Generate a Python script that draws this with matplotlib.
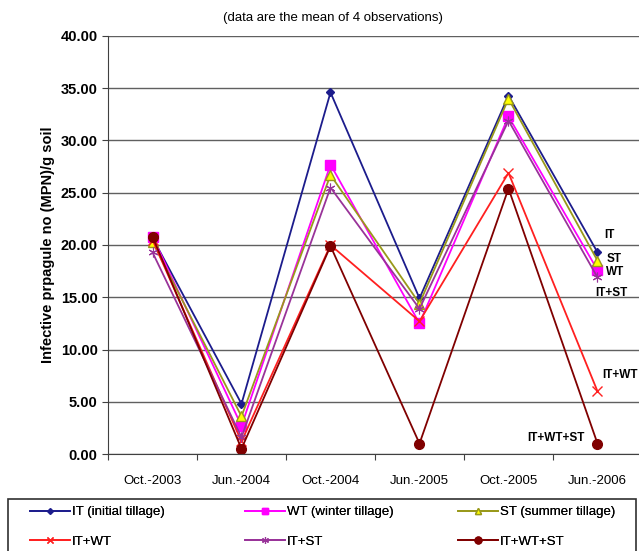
import matplotlib
matplotlib.use("Agg")
import matplotlib.pyplot as plt
from matplotlib.patches import Rectangle

plt.rcParams["font.family"] = ["Liberation Sans", "DejaVu Sans"]

dates = ["Oct.-2003", "Jun.-2004", "Oct.-2004", "Jun.-2005", "Oct.-2005", "Jun.-2006"]
it = [20.7, 4.8, 34.6, 14.9, 34.3, 19.3]
wt = [20.8, 2.7, 27.7, 12.5, 32.3, 17.6]
st = [20.3, 3.6, 26.7, 14.4, 34.0, 18.5]
it_wt = [20.5, 1.2, 20.0, 12.7, 26.9, 6.0]
it_st = [19.3, 1.6, 25.5, 13.9, 31.9, 16.9]
it_wt_st = [20.8, 0.5, 19.9, 1.0, 25.4, 1.0]

# end-of-line labels: text, x (data), y (data)
end_labels = [("IT", 5.08, 21.0), ("ST", 5.1, 18.7), ("WT", 5.1, 17.4),
              ("IT+ST", 4.97, 15.4), ("IT+WT", 5.05, 7.6), ("IT+WT+ST", 4.85, 1.5)]

series = [
    ("IT (initial tillage)", it, "#1c1c8c", dict(marker="D", ms=4, mfc="#1c1c8c", mec="#1c1c8c")),
    ("WT (winter tillage)", wt, "#ff00ff", dict(marker="s", ms=7, mfc="#ff00ff", mec="#ff00ff")),
    ("ST (summer tillage)", st, "#99991a", dict(marker="^", ms=7, mfc="#ffff00", mec="#99991a")),
    ("IT+WT", it_wt, "#ff2020", dict(marker="x", ms=7, mec="#ff2020", mew=1)),
    ("IT+ST", it_st, "#993399", dict(marker=(6, 2, 0), ms=7, mec="#993399", mew=0.8)),
    ("IT+WT+ST", it_wt_st, "#800000", dict(marker="o", ms=7, mfc="#800000", mec="#800000")),
]

fig = plt.figure(figsize=(6.39, 5.51), dpi=100)
ax = fig.add_axes([108 / 639, 1 - 454 / 551, 534 / 639, 418 / 551])

x = list(range(len(dates)))
handles = {}
for name, vals, color, mk in series:
    line, = ax.plot(x, vals, color=color, linewidth=1.3, label=name, **mk)
    handles[name] = line

ax.set_xlim(-0.5, 5.5)
ax.set_ylim(0, 40)
ax.set_yticks(range(0, 41, 5))
ax.set_yticklabels([f"{v:.2f}" for v in range(0, 41, 5)], fontweight="bold", fontsize=10.5)
ax.set_xticks([i + 0.5 for i in range(-1, 6)])
ax.set_xticklabels([])
ax.set_xticks(x, minor=True)
ax.set_xticklabels(dates, minor=True, fontsize=9.5)
ax.tick_params(axis="x", which="minor", length=0, pad=15)
ax.tick_params(axis="x", which="major", length=4, direction="out", color="#404040")
ax.tick_params(axis="y", length=4, color="#404040")
ax.grid(True, axis="y", color="#606060", linewidth=1)
ax.set_axisbelow(True)
for s in ["top", "right"]:
    ax.spines[s].set_visible(False)
ax.spines["left"].set_color("#404040")
ax.spines["bottom"].set_color("#404040")

ax.set_ylabel("Infective prpagule no (MPN)/g soil", fontweight="bold", fontsize=10.5)

for text, xv, yv in end_labels:
    ha = "right" if text == "IT+WT+ST" else "left"
    ax.text(xv, yv, text, fontsize=8.5, fontweight="bold", ha=ha,
            va="center", clip_on=False)

fig.text(333 / 639, 1 - 18 / 551, "(data are the mean of 4 observations)",
         ha="center", va="center", fontsize=9.5)

# legend: frame spanning the figure width, three columns of two rows
fig.patches.append(Rectangle((8 / 639, -0.01), 628 / 639, 1 - 499 / 551 + 0.01,
                             transform=fig.transFigure, fill=False,
                             edgecolor="#303030", linewidth=1.2))
columns = [(30, ["IT (initial tillage)", "IT+WT"]),
           (245, ["WT (winter tillage)", "IT+ST"]),
           (458, ["ST (summer tillage)", "IT+WT+ST"])]
for xpx, names in columns:
    leg = fig.legend([handles[n] for n in names], names, loc="upper left",
                     bbox_to_anchor=(xpx / 639, 1 - 506 / 551), frameon=False,
                     fontsize=9.5, borderaxespad=0, borderpad=0, markerscale=0.7,
                     handlelength=3.0, handletextpad=0.2, labelspacing=1.3)
    fig.add_artist(leg)

plt.savefig("out.png", dpi=100)
